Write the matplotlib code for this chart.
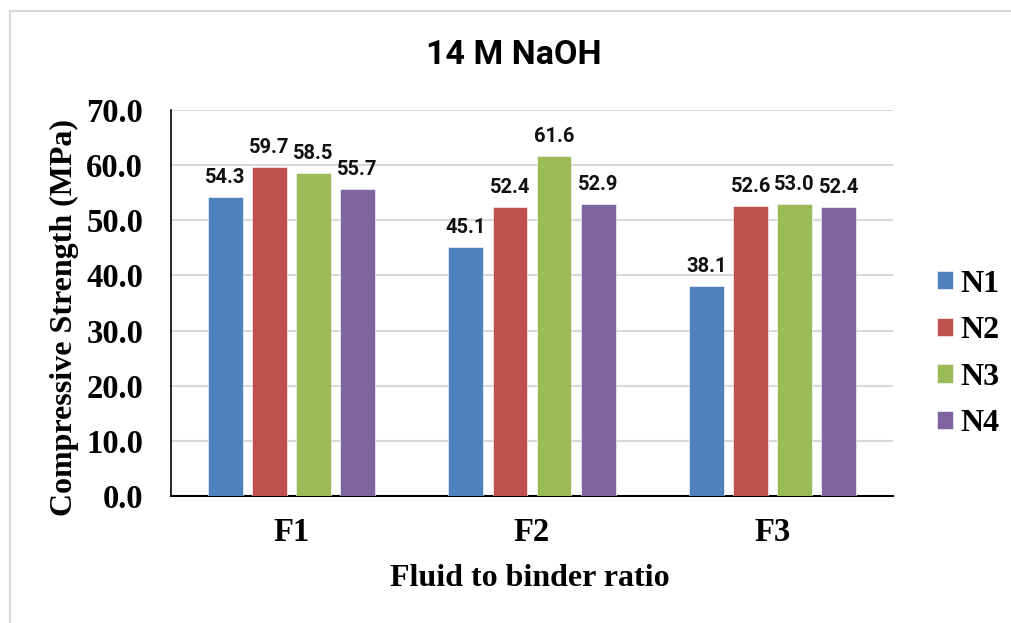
import matplotlib
matplotlib.use("Agg")
import matplotlib.pyplot as plt
import numpy as np
from matplotlib.patches import Rectangle

categories = ["F1", "F2", "F3"]
series = ["N1", "N2", "N3", "N4"]
N1 = [54.3, 45.1, 38.1]
N2 = [59.7, 52.4, 52.6]
N3 = [58.5, 61.6, 53.0]
N4 = [55.7, 52.9, 52.4]
values = [N1, N2, N3, N4]
colors = ["#4F81BD", "#C0504D", "#9BBB59", "#8064A2"]
yticks = [0, 10, 20, 30, 40, 50, 60, 70]

W, H = 1011, 623
fig = plt.figure(figsize=(W / 100, H / 100), dpi=100)
fig.patch.set_facecolor("white")

# outer chart border
fig.patches.append(Rectangle((9.5 / W, -0.1), 1.2, 1 - 10.5 / H + 0.1,
                             transform=fig.transFigure, fill=False,
                             edgecolor="#d9d9d9", linewidth=1.5))

ax = fig.add_axes([171 / W, 1 - 496 / H, (893 - 171) / W, (496 - 110) / H])

serif = "Liberation Serif"
sans = "Roboto"

x = np.arange(len(categories))
bw = 0.145
step = 0.183
offsets = (np.arange(len(series)) - 1.5) * step
for i, (name, vals, c) in enumerate(zip(series, values, colors)):
    bars = ax.bar(x + offsets[i], vals, width=bw, color=c, label=name,
                  edgecolor="white", linewidth=0.4, zorder=3)
    for b, v in zip(bars, vals):
        ax.text(b.get_x() + b.get_width() / 2, v + 1.8, f"{v:.1f}",
                ha="center", va="bottom", fontsize=14.5, fontweight="bold",
                family=sans, color="#111111")

ax.set_xlim(-0.5, 2.5)
ax.set_ylim(0, 70)
ax.set_yticks(yticks)
ax.set_yticklabels([f"{t:.1f}" for t in yticks], family=serif,
                   fontweight="bold", fontsize=23.5)
ax.set_xticks(x)
ax.set_xticklabels(categories, family=serif, fontweight="bold", fontsize=23.5)
ax.tick_params(axis="y", length=0, pad=20)
ax.tick_params(axis="x", length=0, pad=15)
ax.grid(axis="y", color="#d9d9d9", linewidth=1.5, zorder=0)
ax.set_axisbelow(True)
for s in ["top", "right"]:
    ax.spines[s].set_visible(False)
ax.spines["left"].set_color("black")
ax.spines["left"].set_linewidth(1.2)
ax.spines["bottom"].set_color("black")
ax.spines["bottom"].set_linewidth(1.5)

fig.text(530 / W, 1 - 578 / H, "Fluid to binder ratio", ha="center",
         va="center", family=serif, fontweight="bold", fontsize=23)
fig.text(64 / W, 1 - 318 / H, "Compressive Strength (MPa)", ha="center",
         va="center", rotation=90, family=serif, fontweight="bold",
         fontsize=23)
fig.text(514 / W, 1 - 55 / H, "14 M NaOH", ha="center", va="center",
         family=sans, fontweight="bold", fontsize=24.5)

leg = ax.legend(loc="center left", bbox_to_anchor=(908 / W, 1 - 354 / H),
                bbox_transform=fig.transFigure, frameon=False,
                prop={"family": serif, "weight": "bold", "size": 23},
                handlelength=0.5, handleheight=0.5, handletextpad=0.25,
                labelspacing=0.55)

fig.savefig("out.png", dpi=100, facecolor="white")
